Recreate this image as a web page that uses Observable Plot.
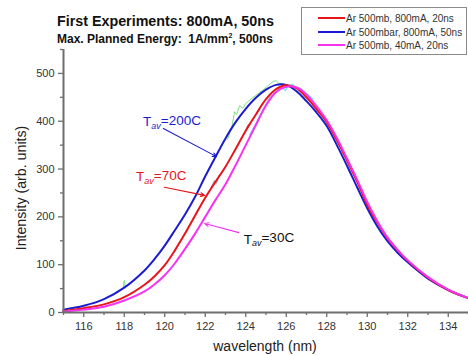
<!DOCTYPE html>
<html><head><meta charset="utf-8">
<script src="https://cdn.jsdelivr.net/npm/d3@7"></script>
<script src="https://cdn.jsdelivr.net/npm/@observablehq/plot@0.6"></script>
<style>
body{margin:0;background:#fff;}
#wrap{position:relative;width:468px;height:355px;overflow:hidden;font-family:"Liberation Sans",Arial,sans-serif;background:#fff}
#wrap svg{position:absolute;left:0;top:0}
.title{position:absolute;left:57px;top:13px;font-weight:bold;font-size:14.3px;color:#111;white-space:pre}
.subtitle{position:absolute;left:57px;top:32px;font-weight:bold;font-size:12px;color:#111;white-space:pre}
.subtitle sup{font-size:7px;vertical-align:5px;line-height:0}
.legend{position:absolute;left:301px;top:7px;width:166px;height:48px;border:1px solid #8a8a8a;box-sizing:border-box;background:#fff}
.legend .row{position:absolute;left:16px;height:12px;font-size:10px;color:#333;white-space:pre;line-height:12px}
.legend .sw{display:inline-block;width:27px;height:2px;vertical-align:middle;margin-right:1px;position:relative;top:-1px}
.xlabel{position:absolute;left:0;width:530px;top:338px;text-align:center;font-size:14px;color:#222}
.ylabel{position:absolute;left:21px;top:188px;font-size:14.2px;color:#222;white-space:pre;transform:translate(-50%,-50%) rotate(-90deg)}
</style></head><body><div id="wrap"></div>
<script>
// ---- data ----
const wavelength = [115,116,117,118,119,119.5,120,120.5,121,121.5,122,122.5,123,123.5,124,124.5,125,125.5,126,126.5,127,127.5,128,128.5,129,129.5,130,130.5,131,131.5,132,133,134,135];
const red500mb20ns   = [3,9,17,32,58,76,99,130,165,203,240,273,305,342,380,414,446,467,475,469,450,425,398,360,318,274,226,188,155,130,108,73,47,30];
const blue500mbar50ns = [6,14,28,52,88,112,140,172,205,242,285,325,364,398,426,449,466,476,476,463,442,418,390,350,307,262,218,180,149,125,105,71,47,30];
const magenta40mA20ns = [2,6,12,25,44,59,78,103,133,165,200,235,268,308,350,392,433,461,472,471,456,431,402,365,322,278,231,191,157,131,109,74,48,30];

const seriesNames = ["Ar 500mb, 800mA, 20ns", "Ar 500mbar, 800mA, 50ns", "Ar 500mb, 40mA, 20ns"];

// raw (unsmoothed) traces visible under the fitted curves; NaN = gap
const rawGreenX = [117.85,117.95,117.99,118.01,118.05,118.15,NaN,123.1,123.3,123.45,123.55,123.7,123.85,124.0,124.3,124.6,124.9,125.15,125.35,125.5,125.65,125.8,126.0];
const rawGreenY = [47,51,66,67,53,55,NaN,362,386,420,414,433,427,437,448,457,467,476,483,485,478,479,475];
const rawCyanX = [124.2,124.5,124.8,125.2,125.6,125.8,125.95,126.1,126.3,126.5,126.7,126.9,127.1,127.3];
const rawCyanY = [372,395,421,451,466,472,464,474,477,470,469,460,455,447];
const rawGrayX = [122.3,122.45,122.55,122.7,NaN,123.9,124.1,124.25];
const rawGrayY = [262,276,270,288,NaN,371,392,397];

const xMajorTicks = [116,118,120,122,124,126,128,130,132,134];
const xMinorTicks = [115,117,119,121,123,125,127,129,131,133,135];
const yMajorTicks = [0,100,200,300,400,500];
const yMinorTicks = [50,150,250,350,450,550];

const annoText = ["T|av|=200C", "T|av|=70C", "T|av|=30C"];
const annoX = [118.93, 118.58, 123.9];
const annoY = [389, 274, 144];
const arrowX1 = [119.93, 119.98, 123.66];
const arrowY1 = [385, 262, 167];
const arrowX2 = [122.56, 121.97, 121.97];
const arrowY2 = [326, 245, 186];

// ---- styles ----
const RED = "#e8141b", BLUE = "#1c1ccf", MAG = "#f533f0";
const seriesColors = [RED, BLUE, MAG];
const annoColors = [BLUE, RED, "#111"];
const arrowColors = [BLUE, RED, MAG];
const AXIS = "#6e6e6e";

const toRows = (xs, ys) => xs.map((x, i) => ({x, y: ys[i]}));
const redRows = toRows(wavelength, red500mb20ns);
const blueRows = toRows(wavelength, blue500mbar50ns);
const magRows = toRows(wavelength, magenta40mA20ns);
const annos = annoText.map((t, i) => ({t, x: annoX[i], y: annoY[i], c: annoColors[i]}));
const arrows = arrowX1.map((x1, i) => ({x1, y1: arrowY1[i], x2: arrowX2[i], y2: arrowY2[i], c: arrowColors[i]}));

const plot = Plot.plot({
  width: 468, height: 355,
  marginLeft: 63, marginRight: 0, marginTop: 49, marginBottom: 43,
  style: {fontFamily: "'Liberation Sans', Arial, sans-serif", fontSize: "11px", background: "transparent", overflow: "visible"},
  x: {domain: [115, 135]},
  y: {domain: [0, 550]},
  marks: [
    Plot.line(toRows(rawGrayX, rawGrayY), {x: "x", y: "y", stroke: "#9a9a9a", strokeWidth: 1}),
    Plot.line(toRows(rawGreenX, rawGreenY), {x: "x", y: "y", stroke: "#7ee07e", strokeWidth: 1}),
    Plot.line(toRows(rawCyanX, rawCyanY), {x: "x", y: "y", stroke: "#6fe6f0", strokeWidth: 1.2}),
    Plot.line(blueRows, {x: "x", y: "y", stroke: BLUE, strokeWidth: 2, curve: "catmull-rom"}),
    Plot.line(redRows, {x: "x", y: "y", stroke: RED, strokeWidth: 2, curve: "catmull-rom"}),
    Plot.line(magRows, {x: "x", y: "y", stroke: MAG, strokeWidth: 2, curve: "catmull-rom"}),
    Plot.arrow(arrows, {x1: "x1", y1: "y1", x2: "x2", y2: "y2", stroke: "c", strokeWidth: 1.1, headLength: 6, headAngle: 50}),
    Plot.text(annos, {x: "x", y: "y", text: "t", fill: "c", textAnchor: "start", lineAnchor: "bottom", fontSize: 13.5}),
    // axes
    Plot.axisX({ticks: xMinorTicks, tickSize: 3, text: null, stroke: AXIS, strokeWidth: 1.3}),
    Plot.axisX({ticks: xMajorTicks, tickSize: 5, text: null, stroke: AXIS, strokeWidth: 1.3}),
    Plot.axisX({ticks: xMajorTicks, tickSize: 0, tickPadding: 10, fill: "#333", label: null}),
    Plot.axisY({ticks: yMinorTicks, tickSize: 3, text: null, stroke: AXIS, strokeWidth: 1.3}),
    Plot.axisY({ticks: yMajorTicks, tickSize: 5, text: null, stroke: AXIS, strokeWidth: 1.3}),
    Plot.axisY({ticks: yMajorTicks, tickSize: 0, tickPadding: 9, fill: "#333", label: null}),
    Plot.ruleX([115], {stroke: AXIS, strokeWidth: 2}),
    Plot.ruleY([0], {stroke: AXIS, strokeWidth: 2})
  ]
});

// subscripts in annotation labels
d3.select(plot).selectAll("text").each(function () {
  const s = this.textContent;
  if (s.includes("|")) {
    const [a, b, c] = s.split("|");
    const el = d3.select(this);
    el.text(null);
    el.append("tspan").text(a);
    el.append("tspan").attr("dy", "0.3em").attr("font-size", "9px").attr("font-style", "italic").text(b);
    el.append("tspan").attr("dy", "-0.3em").text(c);
  }
});

const wrap = document.getElementById("wrap");
wrap.appendChild(plot);

const add = (cls, html) => { const d = document.createElement("div"); d.className = cls; d.innerHTML = html; wrap.appendChild(d); return d; };
add("title", "First Experiments: 800mA, 50ns");
add("subtitle", "Max. Planned Energy:  1A/mm<sup>2</sup>, 500ns");
const leg = add("legend", "");
seriesNames.forEach((n, i) => {
  const r = document.createElement("div");
  r.className = "row";
  r.style.top = (5 + i * 13.5) + "px";
  r.innerHTML = `<span class="sw" style="background:${seriesColors[i]}"></span>${n}`;
  leg.appendChild(r);
});
add("xlabel", "wavelength (nm)");
add("ylabel", "Intensity (arb. units)");
</script></body></html>
